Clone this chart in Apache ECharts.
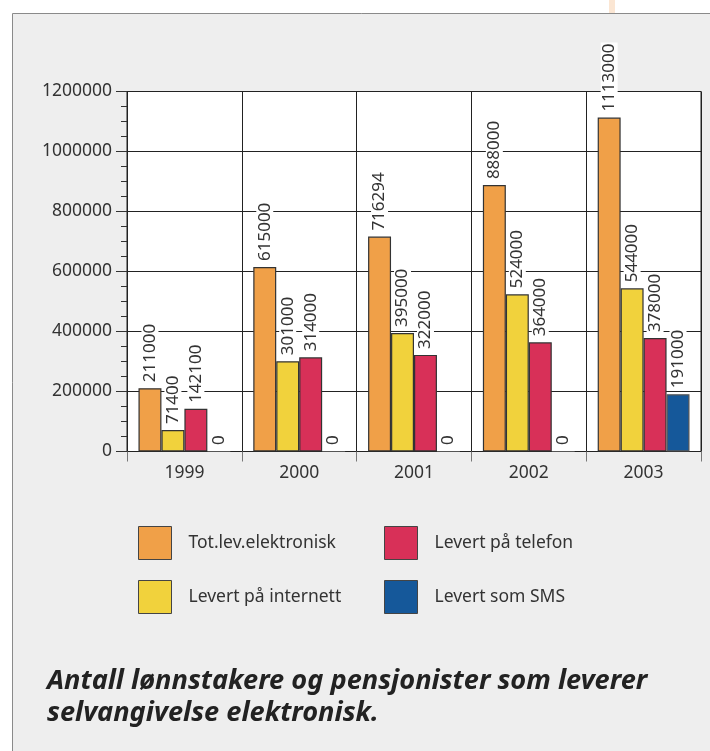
<!DOCTYPE html>
<html>
<head>
<meta charset="utf-8">
<script src="https://cdn.jsdelivr.net/npm/echarts@6/dist/echarts.min.js"></script>
<style>
  * { margin: 0; padding: 0; }
  body { background: #fff; }
  #chart { width: 710px; height: 751px; }
</style>
</head>
<body>
<div id="chart"></div>
<script>
  // årstall og serier
  const years = ['1999', '2000', '2001', '2002', '2003'];
  const totalt = [211000, 615000, 716294, 888000, 1113000];
  const internett = [71400, 301000, 395000, 524000, 544000];
  const telefon = [142100, 314000, 322000, 364000, 378000];
  const sms = [0, 0, 0, 0, 191000];

  const names = ['Tot.lev.elektronisk', 'Levert på internett', 'Levert på telefon', 'Levert som SMS'];
  const colors = ['#f0a048', '#f1d23c', '#d83058', '#15589a'];

  const font = '"Noto Sans", "Open Sans", sans-serif';

  const chart = echarts.init(document.getElementById('chart'));

  function barSeries(name, data, color, border) {
    return {
      name: name,
      type: 'bar',
      data: data,
      barGap: '0%',
      barCategoryGap: '20%',
      itemStyle: { color: color, borderColor: border, borderWidth: 1.2 },
      label: {
        show: true,
        position: 'top',
        rotate: 90,
        align: 'left',
        verticalAlign: 'middle',
        distance: 5,
        color: '#333',
        fontSize: 17,
        fontFamily: font,
        backgroundColor: '#fff',
        padding: [0, 1, 0, 1],
      },
      emphasis: { disabled: true },
    };
  }

  const legendBase = {
    orient: 'vertical',
    top: 526,
    padding: 0,
    itemWidth: 33,
    itemHeight: 33,
    itemGap: 20,
    icon: 'rect',
    itemStyle: { borderColor: '#444', borderWidth: 1 },
    textStyle: { fontFamily: font, fontSize: 17.5, color: '#333', padding: [0, 0, 0, 12] },
    selectedMode: false,
  };

  const option = {
    backgroundColor: '#fff',
    animation: false,
    graphic: [
      {
        type: 'rect',
        z: -10,
        shape: { x: 12.5, y: 13.5, width: 720, height: 760 },
        style: { fill: '#eeeeee', stroke: '#8a8a8a', lineWidth: 1 },
      },
      {
        type: 'rect',
        z: -10,
        shape: { x: 609, y: 0, width: 6, height: 13 },
        style: { fill: '#fbe6d3' },
      },
    ],
    title: {
      text: 'Antall lønnstakere og pensjonister som leverer\nselvangivelse elektronisk.',
      left: 47,
      top: 665,
      padding: 0,
      textStyle: {
        fontFamily: font,
        fontSize: 27.2,
        fontStyle: 'italic',
        fontWeight: 'bold',
        color: '#222',
        lineHeight: 32,
      },
    },
    legend: [
      Object.assign({}, legendBase, { data: [names[0], names[1]], left: 138 }),
      Object.assign({}, legendBase, { data: [names[2], names[3]], left: 384 }),
    ],
    grid: {
      left: 127,
      right: 9,
      top: 91.5,
      bottom: 299.5,
      show: true,
      backgroundColor: '#fff',
      borderColor: '#222',
      borderWidth: 1,
    },
    xAxis: {
      type: 'category',
      data: years,
      boundaryGap: true,
      axisLine: { show: true, lineStyle: { color: '#222', width: 1 } },
      axisTick: { show: true, length: 10, inside: false, lineStyle: { color: '#777' } },
      axisLabel: { margin: 13, color: '#333', fontSize: 17.5, fontFamily: font },
      splitLine: { show: true, lineStyle: { color: '#222', width: 1 } },
    },
    yAxis: {
      type: 'value',
      min: 0,
      max: 1200000,
      interval: 200000,
      axisLine: { show: true, lineStyle: { color: '#222', width: 1 } },
      axisTick: { show: true, length: 11, lineStyle: { color: '#333' } },
      minorTick: { show: true, splitNumber: 4, length: 6, lineStyle: { color: '#333' } },
      axisLabel: {
        margin: 15,
        color: '#333',
        fontSize: 17.5,
        fontFamily: font,
        formatter: (v) => String(v),
      },
      splitLine: { show: true, lineStyle: { color: '#222', width: 1 } },
    },
    series: [
      barSeries(names[0], totalt, colors[0], '#333'),
      barSeries(names[1], internett, colors[1], '#333'),
      barSeries(names[2], telefon, colors[2], '#333'),
      barSeries(names[3], sms, colors[3], '#555'),
    ],
  };

  chart.setOption(option);
</script>
</body>
</html>
